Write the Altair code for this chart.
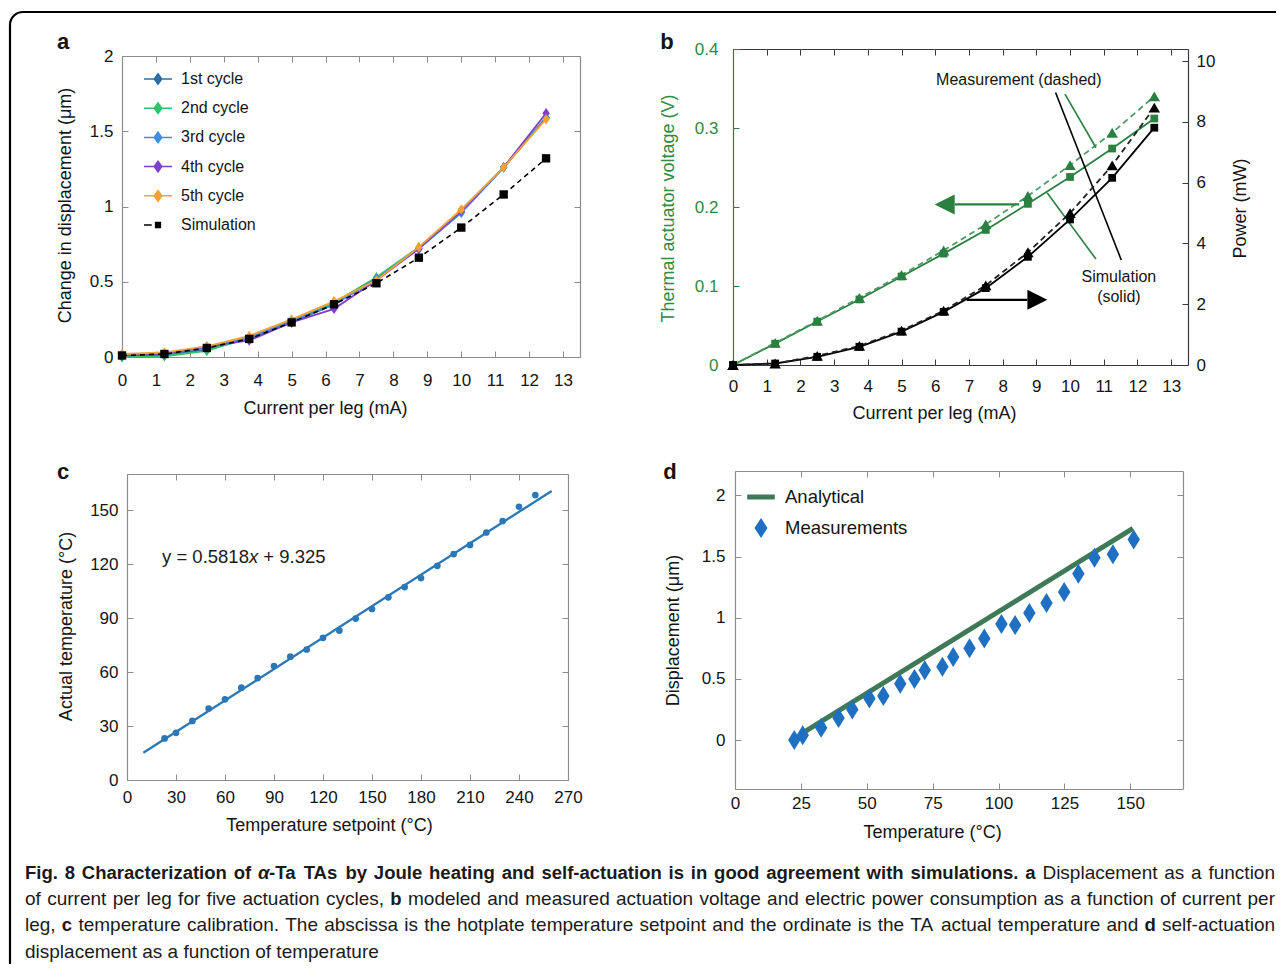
import altair as alt
import pandas as pd

W, H = 1268, 956
FONT = "Liberation Sans"
INK = "#141414"
FRAME = "#8c8c8c"
DARK = "#3a3a3a"

# ---------------- panel a data ----------------
current = [0, 1.25, 2.5, 3.75, 5, 6.25, 7.5, 8.75, 10, 11.25, 12.5]
series_a = ["1st cycle", "2nd cycle", "3rd cycle", "4th cycle", "5th cycle", "Simulation"]
cycle_1 = [0.00, 0.01, 0.05, 0.12, 0.23, 0.35, 0.52, 0.72, 0.96, 1.26, 1.59]
cycle_2 = [0.00, 0.005, 0.04, 0.13, 0.24, 0.36, 0.53, 0.73, 0.97, 1.26, 1.59]
cycle_3 = [0.01, 0.02, 0.06, 0.13, 0.24, 0.35, 0.52, 0.72, 0.96, 1.26, 1.59]
cycle_4 = [0.01, 0.02, 0.07, 0.11, 0.23, 0.32, 0.51, 0.72, 0.97, 1.26, 1.62]
cycle_5 = [0.02, 0.03, 0.07, 0.14, 0.25, 0.37, 0.51, 0.73, 0.98, 1.26, 1.58]
simulation_a = [0.01, 0.02, 0.06, 0.12, 0.23, 0.35, 0.49, 0.66, 0.86, 1.08, 1.32]
colors_a = ["#2d6fa5", "#2ec36b", "#3d8fe3", "#7d3fd1", "#f6a035", "#000000"]

# ---------------- panel b data ----------------
voltage_measured = [0.0, 0.028, 0.056, 0.085, 0.114, 0.145, 0.178, 0.214, 0.253, 0.294, 0.340]
voltage_simulated = [0.0, 0.027, 0.055, 0.083, 0.112, 0.141, 0.171, 0.204, 0.238, 0.274, 0.312]
power_measured = [0.0, 0.05, 0.30, 0.63, 1.13, 1.79, 2.62, 3.71, 5.00, 6.57, 8.47]
power_simulated = [0.0, 0.05, 0.27, 0.60, 1.10, 1.75, 2.53, 3.56, 4.79, 6.16, 7.81]
note_texts = ["Measurement (dashed)", "Simulation", "(solid)"]
note_x = [8.48, 11.45, 11.45]
note_y = [0.361, 0.111, 0.0867]
pointer_x1 = [9.57, 9.85, 9.32]
pointer_y1 = [0.345, 0.343, 0.218]
pointer_x2 = [11.52, 10.77, 10.77]
pointer_y2 = [0.133, 0.275, 0.134]
pointer_kind = ["black", "green", "green"]
arrow_x1 = [6.58, 6.93]
arrow_x2 = [8.49, 8.73]
arrow_y = [0.2032, 0.0825]
arrow_head_x = [6.28, 9.03]
arrow_kind = ["green", "black"]

# ---------------- panel c data ----------------
setpoint = [23, 30, 40, 50, 60, 70, 80, 90, 100, 110, 120, 130, 140, 150, 160, 170,
            180, 190, 200, 210, 220, 230, 240, 250]
actual = [23.1, 26.2, 32.8, 39.7, 44.8, 51.3, 56.6, 63.3, 68.5, 72.5, 79.0, 83.0, 89.7,
          95.0, 101.5, 107.2, 112.2, 119.0, 125.5, 130.6, 137.5, 143.9, 151.8, 158.3]
fit_x = [10, 260]
fit_y = [15.1, 160.6]
equation_runs = [("y = 0.5818", "normal", "normal"), ("x", "normal", "italic"),
                 (" + 9.325", "normal", "normal")]

# ---------------- panel d data ----------------
temperature_d = [22.5, 25.7, 32.7, 39.3, 44.5, 51.0, 56.3, 62.7, 68.1, 72.0, 78.7, 82.8,
                 89.0, 94.6, 101.1, 106.3, 111.7, 118.2, 124.9, 130.3, 136.4, 143.4, 151.3]
displacement_d = [0.0, 0.04, 0.10, 0.18, 0.25, 0.34, 0.36, 0.46, 0.50, 0.57, 0.60, 0.68,
                  0.75, 0.83, 0.95, 0.94, 1.04, 1.12, 1.21, 1.36, 1.49, 1.52, 1.64]
analytical_x = [26.5, 151.0]
analytical_y = [0.07, 1.73]
series_d = ["Analytical", "Measurements"]

# ---------------- caption ----------------
caption_lines = [
    [("Fig. 8 Characterization of ", "bold", "normal"), ("α", "bold", "italic"),
     ("-Ta TAs by Joule heating and self-actuation is in good agreement with simulations. a ", "bold", "normal"),
     ("Displacement as a function", "normal", "normal")],
    [("of current per leg for five actuation cycles, ", "normal", "normal"), ("b ", "bold", "normal"),
     ("modeled and measured actuation voltage and electric power consumption as a function of current per", "normal", "normal")],
    [("leg, ", "normal", "normal"), ("c ", "bold", "normal"),
     ("temperature calibration. The abscissa is the hotplate temperature setpoint and the ordinate is the TA actual temperature and ", "normal", "normal"),
     ("d ", "bold", "normal"), ("self-actuation", "normal", "normal")],
    [("displacement as a function of temperature", "normal", "normal")],
]
caption_justified = [True, True, True, False]
caption_line_y = [865, 891, 917, 944]
caption_x0, caption_x1 = 17, 1267
CAP_FS = 19
BOLD_SCALE = 0.975

panel_letters = ["a", "b", "c", "d"]
letter_pos = [(55, 34), (659, 34), (55, 464), (662, 464)]

# Helvetica/Arial advance widths (per 1000 em) used to lay out text runs
_chars = " .,-()=+ABCDEFGHIJKLMNOPQRSTUVWXYZabcdefghijklmnopqrstuvwxyz0123456789α"
_reg = [278, 278, 278, 333, 333, 333, 584, 584,
        667, 667, 722, 722, 667, 611, 778, 722, 278, 500, 667, 556, 833, 722, 778, 667, 778, 722,
        667, 611, 722, 667, 944, 667, 667, 611,
        556, 556, 500, 556, 556, 278, 556, 556, 222, 222, 500, 222, 833, 556, 556, 556, 556, 333,
        500, 278, 556, 500, 722, 500, 500, 500] + [556] * 10 + [580]
_bold = [278, 278, 278, 333, 333, 333, 584, 584,
         722, 722, 722, 722, 667, 611, 778, 722, 278, 556, 722, 611, 833, 722, 778, 667, 778, 722,
         667, 611, 722, 667, 944, 667, 667, 611,
         556, 611, 556, 611, 556, 333, 611, 611, 278, 278, 556, 278, 889, 611, 611, 611, 611, 389,
         556, 333, 611, 556, 778, 556, 556, 500] + [556] * 10 + [600]
REG_W = dict(zip(_chars, _reg))
BOLD_W = dict(zip(_chars, _bold))


def run_width(text, weight, fs):
    table = BOLD_W if weight == "bold" else REG_W
    return sum(table.get(ch, 556) for ch in text) * fs / 1000.0


def line_words(runs):
    words = [[]]
    for text, weight, style in runs:
        parts = text.split(" ")
        for i, part in enumerate(parts):
            if i > 0:
                words.append([])
            if part:
                words[-1].append((part, weight, style))
    return [w for w in words if w]


def layout_line(runs, x0, y, fs, target=None, bold_scale=1.0):
    words = line_words(runs)

    def fsw(weight):
        return fs * (bold_scale if weight == "bold" else 1.0)

    widths = [sum(run_width(t, wt, fsw(wt)) for t, wt, st in w) for w in words]
    gap = REG_W[" "] * fs / 1000.0
    if target and len(words) > 1:
        gap = (target - sum(widths)) / (len(words) - 1)
    rows = []
    x = x0
    for w, wd in zip(words, widths):
        for t, wt, st in w:
            rows.append(dict(t=t, px=x, py=y, weight=wt, style=st, fs=round(fsw(wt), 2)))
            x += run_width(t, wt, fsw(wt))
        x += gap
    return rows


def mk_axis(orient, offset, values, labels=False, ticks=False, domain=False, color=FRAME,
            pad=0, lcolor=INK, lsize=17, fmt=None, baseline=None,
            title=None, txy=None, tsize=18, tcolor=INK, tangle=None):
    kw = dict(orient=orient, offset=offset, values=values, labels=labels, ticks=ticks,
              domain=domain, grid=False, domainColor=color, domainWidth=1.2,
              tickColor=color, tickWidth=1, tickSize=6, labelFlush=False,
              labelOverlap=False, labelPadding=pad, labelColor=lcolor,
              labelFont=FONT, labelFontSize=lsize)
    if fmt:
        kw["format"] = fmt
    if baseline:
        kw["labelBaseline"] = baseline
    if title:
        kw.update(title=title, titleFont=FONT, titleFontSize=tsize, titleColor=tcolor,
                  titleFontWeight="normal", titleX=txy[0], titleY=txy[1],
                  titleAlign="center", titleBaseline="middle")
        if tangle is not None:
            kw["titleAngle"] = tangle
    else:
        kw["title"] = None
    return alt.Axis(**kw)


def sc(domain, rng):
    return alt.Scale(domain=domain, range=rng, nice=False, zero=False)


# ======================= panel a =======================
aL, aR, aT, aB = 114, 572, 48, 349
sxa = sc([0, 13.5], [aL, aR])
sya = sc([0, 2], [aB, aT])
xt_a = list(range(14))
yt_a = [0, 0.5, 1, 1.5, 2]
a_xlab = mk_axis("bottom", aB - H, xt_a, labels=True, domain=True, pad=23, baseline="middle",
                 title="Current per leg (mA)", txy=(317, 51))
a_xin = mk_axis("top", -aB, xt_a, ticks=True)
a_xtop = mk_axis("bottom", aT - H, xt_a, ticks=True, domain=True)
a_ylab = mk_axis("left", -aL, yt_a, labels=True, domain=True, pad=9, fmt="~g",
                 title="Change in displacement (μm)", txy=(57 - aL, 197), tangle=270)
a_yin = mk_axis("right", aL - W, yt_a, ticks=True)
a_yright = mk_axis("left", -aR, yt_a, ticks=True, domain=True)

DIAMOND = "M0,-1L0.7,0L0,1L-0.7,0Z"
LEG_DIAMOND = "M-1,0H1M0,-0.38L0.27,0L0,0.38L-0.27,0Z"
LEG_SIM = "M-1,0H-0.45M-0.17,-0.17H0.17V0.17H-0.17Z"

cycles = [cycle_1, cycle_2, cycle_3, cycle_4, cycle_5]
layers_a = []
for i, (vals, col) in enumerate(zip(cycles, colors_a[:5])):
    df_i = pd.DataFrame({"x": current, "y": vals})
    layers_a.append(alt.Chart(df_i).mark_line(strokeWidth=1.8, color=col).encode(
        x=alt.X("x:Q", scale=sxa, axis=a_xlab if i == 0 else None),
        y=alt.Y("y:Q", scale=sya, axis=a_ylab if i == 0 else None)))
    layers_a.append(alt.Chart(df_i).mark_point(shape=DIAMOND, size=110, filled=True, opacity=1,
                                               color=col).encode(
        x=alt.X("x:Q", scale=sxa, axis=a_xin if i == 0 else None),
        y=alt.Y("y:Q", scale=sya, axis=a_yin if i == 0 else None)))

df_a_sim = pd.DataFrame({"x": current, "y": simulation_a})
df_a_leg = pd.DataFrame({"series": series_a, "x": [0] * 6, "y": [0] * 6})
leg_a = alt.Legend(orient="none", legendX=135, legendY=56, padding=0, rowPadding=5.2, title=None,
                   symbolSize=784, symbolStrokeWidth=1.5, labelFont=FONT, labelFontSize=16,
                   labelColor=INK, labelOffset=8, symbolOpacity=1, labelLimit=300)
layers_a.append(alt.Chart(df_a_sim).mark_line(color="black", strokeDash=[5, 4], strokeWidth=1.6).encode(
    x=alt.X("x:Q", scale=sxa, axis=None), y=alt.Y("y:Q", scale=sya, axis=None)))
layers_a.append(alt.Chart(df_a_sim).mark_point(shape="square", size=70, filled=True, opacity=1,
                                               color="black").encode(
    x=alt.X("x:Q", scale=sxa, axis=None), y=alt.Y("y:Q", scale=sya, axis=None)))
layers_a.append(alt.Chart(df_a_leg).transform_filter("false").mark_point(filled=True, opacity=1).encode(
    x=alt.X("x:Q", scale=sxa, axis=a_xtop),
    y=alt.Y("y:Q", scale=sya, axis=a_yright),
    fill=alt.Fill("series:N", scale=alt.Scale(domain=series_a, range=colors_a), legend=leg_a),
    stroke=alt.Stroke("series:N", scale=alt.Scale(domain=series_a, range=colors_a), legend=leg_a),
    shape=alt.Shape("series:N", scale=alt.Scale(domain=series_a, range=[LEG_DIAMOND] * 5 + [LEG_SIM]),
                    legend=leg_a)))
panel_a = alt.layer(*layers_a).resolve_axis(x="independent", y="independent")

# ======================= panel b =======================
bL, bR, bT, bB = 725, 1180, 41, 357
GREEN = "#2a8040"
GREEN_DASH = "#4f9a66"
GREEN_LBL = "#2e8a45"
sxb = sc([0, 13.5], [bL, bR])
syv = sc([0, 0.4], [bB, bT])
syp = sc([0, 10.4], [bB, bT])
xt_b = list(range(14))
vt = [0, 0.1, 0.2, 0.3, 0.4]
pt = [0, 2, 4, 6, 8, 10]
b_xlab = mk_axis("bottom", bB - H, xt_b, labels=True, domain=True, color=DARK, pad=21,
                 baseline="middle", title="Current per leg (mA)", txy=(926, 48))
b_xin = mk_axis("top", -bB, xt_b, ticks=True, color=DARK)
b_xtop = mk_axis("bottom", bT - H, xt_b, ticks=True, domain=True, color=DARK)
b_vlab = mk_axis("left", -bL, vt, labels=True, domain=True, color=GREEN, lcolor=GREEN_LBL, pad=15,
                 fmt="~g", title="Thermal actuator voltage (V)", txy=(660 - bL, 200),
                 tcolor=GREEN_LBL, tangle=270)
b_vin = mk_axis("right", bL - W, vt, ticks=True, color=GREEN)
b_plab = mk_axis("right", bR - W, pt, labels=True, domain=True, color=DARK, pad=8,
                 title="Power (mW)", txy=(1232 - bR, 200), tangle=270)
b_pin = mk_axis("left", -bR, pt, ticks=True, color=DARK)

df_b = pd.DataFrame({"x": current, "vm": voltage_measured, "vs": voltage_simulated,
                     "pm": power_measured, "ps": power_simulated})
df_notes = pd.DataFrame({"x": note_x, "y": note_y, "t": note_texts})
df_ptr = pd.DataFrame({"x1": pointer_x1, "y1": pointer_y1, "x2": pointer_x2, "y2": pointer_y2,
                       "k": pointer_kind})
df_arr = pd.DataFrame({"x1": arrow_x1, "x2": arrow_x2, "y": arrow_y, "hx": arrow_head_x,
                       "k": arrow_kind})
HEAD_LEFT = "M-1,0L1,-1L1,1Z"
HEAD_RIGHT = "M1,0L-1,-1L-1,1Z"

v1 = alt.Chart(df_b).mark_line(color=GREEN, strokeWidth=1.8).encode(
    x=alt.X("x:Q", scale=sxb, axis=b_xlab), y=alt.Y("vs:Q", scale=syv, axis=b_vlab))
v2 = alt.Chart(df_b).mark_line(color=GREEN_DASH, strokeWidth=1.8, strokeDash=[6, 4]).encode(
    x=alt.X("x:Q", scale=sxb, axis=b_xin), y=alt.Y("vm:Q", scale=syv, axis=b_vin))
v3 = alt.Chart(df_b).mark_point(shape="square", size=60, filled=True, opacity=1, color=GREEN).encode(
    x=alt.X("x:Q", scale=sxb, axis=b_xtop), y=alt.Y("vs:Q", scale=syv, axis=None))
v4 = alt.Chart(df_b).mark_point(shape="triangle-up", size=130, filled=True, opacity=1, color=GREEN).encode(
    x=alt.X("x:Q", scale=sxb, axis=None), y=alt.Y("vm:Q", scale=syv, axis=None))
ptr_g = alt.Chart(df_ptr).transform_filter("datum.k == 'green'").mark_rule(color=GREEN, strokeWidth=1.6).encode(
    x=alt.X("x1:Q", scale=sxb, axis=None), y=alt.Y("y1:Q", scale=syv, axis=None),
    x2="x2:Q", y2="y2:Q")
ptr_k = alt.Chart(df_ptr).transform_filter("datum.k == 'black'").mark_rule(color="black", strokeWidth=1.6).encode(
    x=alt.X("x1:Q", scale=sxb, axis=None), y=alt.Y("y1:Q", scale=syv, axis=None),
    x2="x2:Q", y2="y2:Q")
shaft_g = alt.Chart(df_arr).transform_filter("datum.k == 'green'").mark_rule(color=GREEN, strokeWidth=2.2).encode(
    x=alt.X("x1:Q", scale=sxb, axis=None), x2="x2:Q", y=alt.Y("y:Q", scale=syv, axis=None))
shaft_k = alt.Chart(df_arr).transform_filter("datum.k == 'black'").mark_rule(color="black", strokeWidth=2.2).encode(
    x=alt.X("x1:Q", scale=sxb, axis=None), x2="x2:Q", y=alt.Y("y:Q", scale=syv, axis=None))
head_g = alt.Chart(df_arr).transform_filter("datum.k == 'green'").mark_point(
    shape=HEAD_LEFT, size=400, filled=True, opacity=1, color=GREEN).encode(
    x=alt.X("hx:Q", scale=sxb, axis=None), y=alt.Y("y:Q", scale=syv, axis=None))
head_k = alt.Chart(df_arr).transform_filter("datum.k == 'black'").mark_point(
    shape=HEAD_RIGHT, size=400, filled=True, opacity=1, color="black").encode(
    x=alt.X("hx:Q", scale=sxb, axis=None), y=alt.Y("y:Q", scale=syv, axis=None))
notes = alt.Chart(df_notes).mark_text(font=FONT, fontSize=16, color=INK, align="center", baseline="middle").encode(
    x=alt.X("x:Q", scale=sxb, axis=None), y=alt.Y("y:Q", scale=syv, axis=None), text="t:N")
volt_group = alt.layer(v1, v2, v3, v4, ptr_g, ptr_k, shaft_g, shaft_k, head_g, head_k, notes).resolve_axis(
    x="independent", y="independent")

p1 = alt.Chart(df_b).mark_line(color="black", strokeWidth=1.8).encode(
    x=alt.X("x:Q", scale=sxb, axis=None), y=alt.Y("ps:Q", scale=syp, axis=b_plab))
p2 = alt.Chart(df_b).mark_line(color="#222222", strokeWidth=1.8, strokeDash=[6, 4]).encode(
    x=alt.X("x:Q", scale=sxb, axis=None), y=alt.Y("pm:Q", scale=syp, axis=b_pin))
p3 = alt.Chart(df_b).mark_point(shape="square", size=60, filled=True, opacity=1, color="black").encode(
    x=alt.X("x:Q", scale=sxb, axis=None), y=alt.Y("ps:Q", scale=syp, axis=None))
p4 = alt.Chart(df_b).mark_point(shape="triangle-up", size=130, filled=True, opacity=1, color="black").encode(
    x=alt.X("x:Q", scale=sxb, axis=None), y=alt.Y("pm:Q", scale=syp, axis=None))
power_group = alt.layer(p1, p2, p3, p4).resolve_axis(x="independent", y="independent")

panel_b = alt.layer(volt_group, power_group).resolve_scale(y="independent").resolve_axis(
    x="independent", y="independent")

# ======================= panel c =======================
cL, cR, cT, cB = 119, 560, 466, 772
BLUE_C = "#2a78b8"
sxc = sc([0, 270], [cL, cR])
syc = sc([0, 170], [cB, cT])
xt_c = list(range(0, 271, 30))
yt_c = list(range(0, 151, 30))
c_xlab = mk_axis("bottom", cB - H, xt_c, labels=True, domain=True, pad=17, baseline="middle",
                 title="Temperature setpoint (°C)", txy=(321, 45))
c_xin = mk_axis("top", -cB, xt_c, ticks=True)
c_xtop = mk_axis("bottom", cT - H, xt_c, ticks=True, domain=True)
c_ylab = mk_axis("left", -cL, yt_c, labels=True, domain=True, pad=9,
                 title="Actual temperature (°C)", txy=(58 - cL, 618), tangle=270)
c_yin = mk_axis("right", cL - W, yt_c, ticks=True)
c_yright = mk_axis("left", -cR, yt_c, ticks=True, domain=True)

df_c = pd.DataFrame({"x": setpoint, "y": actual})
df_fit = pd.DataFrame({"x": fit_x, "y": fit_y})
c1 = alt.Chart(df_c).mark_circle(size=45, opacity=1, color=BLUE_C).encode(
    x=alt.X("x:Q", scale=sxc, axis=c_xlab), y=alt.Y("y:Q", scale=syc, axis=c_ylab))
c2 = alt.Chart(df_fit).mark_line(color=BLUE_C, strokeWidth=2.3).encode(
    x=alt.X("x:Q", scale=sxc, axis=c_xin), y=alt.Y("y:Q", scale=syc, axis=c_yin))
c3 = alt.Chart(df_fit).mark_line(opacity=0).encode(
    x=alt.X("x:Q", scale=sxc, axis=c_xtop), y=alt.Y("y:Q", scale=syc, axis=c_yright))
panel_c = alt.layer(c1, c2, c3).resolve_axis(x="independent", y="independent")

# ======================= panel d =======================
dL, dR, dT, dB = 727, 1175, 463, 781
GREEN_D = "#3f7a58"
BLUE_D = "#1f6fc2"
sxd = sc([0, 170], [dL, dR])
syd = sc([-0.4, 2.2], [dB, dT])
xt_d = list(range(0, 151, 25))
yt_d = [0, 0.5, 1, 1.5, 2]
d_xlab = mk_axis("bottom", dB - H, xt_d, labels=True, domain=True, pad=14, baseline="middle",
                 title="Temperature (°C)", txy=(924, 43))
d_xin = mk_axis("top", -dB, xt_d, ticks=True)
d_xtop = mk_axis("bottom", dT - H, xt_d, ticks=True, domain=True)
d_ylab = mk_axis("left", -dL, yt_d, labels=True, domain=True, pad=10, fmt="~g",
                 title="Displacement (μm)", txy=(665 - dL, 622), tangle=270)
d_yin = mk_axis("right", dL - W, yt_d, ticks=True)
d_yright = mk_axis("left", -dR, yt_d, ticks=True, domain=True)

DIAMOND_D = "M0,-1L0.62,0L0,1L-0.62,0Z"
df_d = pd.DataFrame({"x": temperature_d, "y": displacement_d})
df_an = pd.DataFrame({"x": analytical_x, "y": analytical_y})
df_d_leg = pd.DataFrame({"series": series_d, "x": [0, 0], "y": [0, 0]})
leg_d = alt.Legend(orient="none", legendX=739, legendY=475, padding=0, rowPadding=0, title=None,
                   symbolSize=529, symbolStrokeWidth=5, labelFont=FONT, labelFontSize=18.5,
                   labelColor=INK, labelOffset=10, symbolOpacity=1, labelLimit=300)
d1 = alt.Chart(df_an).mark_line(color=GREEN_D, strokeWidth=5).encode(
    x=alt.X("x:Q", scale=sxd, axis=d_xlab), y=alt.Y("y:Q", scale=syd, axis=d_ylab))
d2 = alt.Chart(df_d).mark_point(shape=DIAMOND_D, size=400, filled=True, opacity=1, color=BLUE_D).encode(
    x=alt.X("x:Q", scale=sxd, axis=d_xin), y=alt.Y("y:Q", scale=syd, axis=d_yin))
d3 = alt.Chart(df_d_leg).transform_filter("false").mark_point(filled=True, opacity=1).encode(
    x=alt.X("x:Q", scale=sxd, axis=d_xtop), y=alt.Y("y:Q", scale=syd, axis=d_yright),
    fill=alt.Fill("series:N", scale=alt.Scale(domain=series_d, range=["transparent", BLUE_D]), legend=leg_d),
    stroke=alt.Stroke("series:N", scale=alt.Scale(domain=series_d, range=[GREEN_D, "transparent"]), legend=leg_d),
    shape=alt.Shape("series:N", scale=alt.Scale(domain=series_d, range=["M-1.2,0H1.2", "M0,-0.87L0.565,0L0,0.87L-0.565,0Z"]), legend=leg_d))
panel_d = alt.layer(d1, d2, d3).resolve_axis(x="independent", y="independent")

# ======================= frame, letters, caption, equation =======================
one = pd.DataFrame({"k": [0]})
frame = alt.Chart(one).mark_rect(fillOpacity=0, stroke="black", strokeWidth=2.2, cornerRadius=13).encode(
    x=alt.value(2), x2=alt.value(1400), y=alt.value(4), y2=alt.value(1100))

texts = []
for letter, (lx, ly) in zip(panel_letters, letter_pos):
    texts.append(alt.Chart(one).mark_text(font=FONT, fontSize=22, fontWeight="bold", color=INK,
                                          align="center", baseline="middle").encode(
        x=alt.value(lx), y=alt.value(ly), text=alt.value(letter)))

rows = []
for runs, just, yy in zip(caption_lines, caption_justified, caption_line_y):
    rows += layout_line(runs, caption_x0, yy, CAP_FS,
                        target=(caption_x1 - caption_x0) if just else None,
                        bold_scale=BOLD_SCALE)
rows += layout_line(equation_runs, 154, 549, 18.5)
df_txt = pd.DataFrame(rows)
PIXX = alt.Scale(domain=[0, W], range=[0, W])
PIXY = alt.Scale(domain=[0, H], range=[0, H])
for (wt, st, fs), sub in df_txt.groupby(["weight", "style", "fs"]):
    texts.append(alt.Chart(sub.reset_index(drop=True)).mark_text(
        font=FONT, fontSize=float(fs), fontWeight=wt, fontStyle=st, color="#1a1a1a",
        align="left", baseline="middle").encode(
        x=alt.X("px:Q", scale=PIXX, axis=None), y=alt.Y("py:Q", scale=PIXY, axis=None),
        text="t:N"))

chart = alt.layer(frame, panel_a, panel_b, panel_c, panel_d, *texts).resolve_scale(
    x="independent", y="independent", fill="independent",
    stroke="independent", shape="independent"
).resolve_axis(x="independent", y="independent").resolve_legend(
    fill="independent", stroke="independent", shape="independent"
).properties(
    width=W, height=H, padding=0, autosize=alt.AutoSizeParams(type="none"),
    background="white"
).configure_view(stroke="transparent")

chart.save("out.html", embed_options={"renderer": "svg", "actions": False})
